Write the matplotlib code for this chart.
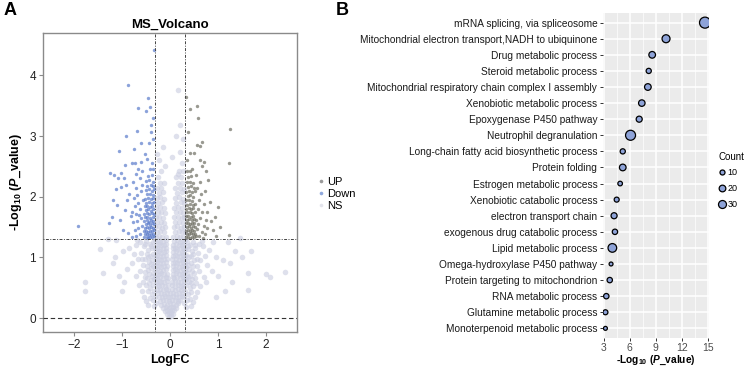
import numpy as np
import matplotlib.pyplot as plt
from matplotlib.lines import Line2D
from matplotlib.ticker import MultipleLocator

plt.rcParams['font.family'] = ['Liberation Sans', 'DejaVu Sans']
plt.rcParams['mathtext.fontset'] = 'custom'
plt.rcParams['mathtext.rm'] = 'Liberation Sans:bold'
plt.rcParams['mathtext.it'] = 'Liberation Sans:italic:bold'
plt.rcParams['mathtext.bf'] = 'Liberation Sans:bold'

# ---------------- panel A: volcano points (logFC, -log10 p)
up_pts = [
    (0.33, 3.64), (0.56, 3.49), (0.42, 3.44), (0.59, 3.30), (1.25, 3.12), (1.24, 2.55),
    (0.37, 3.07), (0.56, 2.86), (0.63, 2.84), (0.66, 2.90), (0.42, 2.72), (0.51, 2.72),
    (0.63, 2.60), (0.70, 2.57), (0.66, 2.50), (0.36, 2.60), (0.45, 2.45), (0.75, 2.42),
    (0.55, 2.35), (0.80, 2.28), (0.62, 2.25), (0.83, 1.92), (1.01, 1.83), (0.94, 1.67),
    (1.04, 1.50), (1.24, 1.37), (0.90, 1.45), (0.85, 1.60), (0.78, 1.75), (0.95, 1.35),
    (0.57, 2.15), (0.65, 2.05), (0.72, 2.10), (0.60, 1.95), (0.70, 1.88), (0.58, 1.80),
    (0.66, 1.75), (0.75, 1.62), (0.62, 1.65), (0.70, 1.52), (0.58, 1.55), (0.66, 1.42),
    (0.74, 1.38), (0.60, 1.35), (0.78, 1.48), (0.68, 1.32),
    (0.34, 1.33), (0.38, 1.34), (0.42, 1.32), (0.46, 1.34), (0.50, 1.33), (0.55, 1.35),
    (0.36, 1.39), (0.40, 1.38), (0.44, 1.40), (0.49, 1.38), (0.53, 1.39),
    (0.33, 1.44), (0.37, 1.45), (0.41, 1.43), (0.45, 1.45), (0.50, 1.44), (0.56, 1.46),
    (0.35, 1.50), (0.39, 1.51), (0.43, 1.49), (0.48, 1.51), (0.53, 1.50),
    (0.34, 1.56), (0.38, 1.57), (0.42, 1.55), (0.46, 1.57), (0.51, 1.56),
    (0.36, 1.62), (0.40, 1.63), (0.45, 1.61), (0.50, 1.63), (0.55, 1.62),
    (0.34, 1.68), (0.38, 1.69), (0.43, 1.67), (0.48, 1.69),
    (0.36, 1.74), (0.41, 1.75), (0.46, 1.73), (0.52, 1.75),
    (0.34, 1.80), (0.39, 1.81), (0.44, 1.79), (0.49, 1.81),
    (0.36, 1.87), (0.41, 1.88), (0.47, 1.86), (0.53, 1.88),
    (0.34, 1.94), (0.39, 1.95), (0.45, 1.93),
    (0.37, 2.01), (0.42, 2.02), (0.49, 2.00),
    (0.34, 2.08), (0.40, 2.09), (0.46, 2.07), (0.52, 2.09),
    (0.37, 2.16), (0.43, 2.17), (0.50, 2.15),
    (0.35, 2.24), (0.41, 2.25), (0.47, 2.23),
    (0.38, 2.33), (0.44, 2.34), (0.35, 2.42), (0.41, 2.43),
]

down_pts = [
    (-0.33, 4.42), (-0.87, 3.84), (-0.67, 3.46), (-0.45, 3.62), (-0.42, 3.48), (-0.36, 3.30),
    (-0.50, 3.42), (-0.39, 3.18), (-0.92, 3.00), (-0.69, 3.08), (-0.40, 3.07), (-0.61, 2.89),
    (-0.44, 2.89), (-0.36, 2.95), (-1.06, 2.76), (-0.76, 2.78), (-0.52, 2.71), (-0.79, 2.55),
    (-0.73, 2.55), (-0.60, 2.57), (-0.47, 2.62), (-0.94, 2.53), (-1.25, 2.39), (-1.17, 2.35),
    (-1.03, 2.39), (-1.09, 2.30), (-0.92, 2.19), (-1.03, 2.16), (-1.13, 2.12), (-1.19, 1.94),
    (-1.11, 1.86), (-1.28, 1.56), (-1.22, 1.67), (-0.94, 1.78), (-1.04, 1.62), (-1.92, 1.52),
    (-0.98, 1.45), (-0.90, 1.95), (-0.85, 2.05), (-0.82, 1.68), (-0.88, 1.40), (-0.95, 2.30),
    (-0.78, 2.25), (-0.72, 2.38), (-0.66, 2.46), (-0.70, 2.15), (-0.62, 2.30), (-0.58, 2.42),
    (-0.76, 1.98), (-0.68, 2.02), (-0.60, 2.10), (-0.74, 1.85), (-0.66, 1.90), (-0.79, 1.75),
    (-0.70, 1.72), (-0.62, 1.80), (-0.77, 1.58), (-0.69, 1.60), (-0.60, 1.65), (-0.74, 1.45),
    (-0.66, 1.48), (-0.58, 1.52), (-0.70, 1.36), (-0.62, 1.38), (-0.80, 1.33), (-0.56, 1.95),
    (-0.58, 2.20), (-0.64, 1.70),
    (-0.54, 1.33), (-0.49, 1.34), (-0.45, 1.32), (-0.41, 1.34), (-0.37, 1.33), (-0.34, 1.35),
    (-0.52, 1.38), (-0.47, 1.39), (-0.43, 1.37), (-0.39, 1.39), (-0.35, 1.38),
    (-0.55, 1.43), (-0.50, 1.44), (-0.46, 1.42), (-0.42, 1.44), (-0.38, 1.43), (-0.34, 1.45),
    (-0.53, 1.49), (-0.48, 1.50), (-0.44, 1.48), (-0.40, 1.50), (-0.36, 1.49),
    (-0.51, 1.55), (-0.46, 1.56), (-0.42, 1.54), (-0.38, 1.56), (-0.34, 1.55),
    (-0.54, 1.60), (-0.49, 1.61), (-0.44, 1.59), (-0.39, 1.61), (-0.35, 1.60),
    (-0.52, 1.66), (-0.47, 1.67), (-0.41, 1.65), (-0.36, 1.67),
    (-0.55, 1.72), (-0.49, 1.73), (-0.44, 1.71), (-0.38, 1.73), (-0.34, 1.72),
    (-0.51, 1.78), (-0.46, 1.79), (-0.40, 1.77), (-0.35, 1.79),
    (-0.53, 1.84), (-0.47, 1.85), (-0.42, 1.83), (-0.37, 1.85),
    (-0.50, 1.90), (-0.44, 1.91), (-0.38, 1.89), (-0.34, 1.91),
    (-0.52, 1.97), (-0.46, 1.98), (-0.40, 1.96), (-0.35, 1.98),
    (-0.48, 2.04), (-0.42, 2.05), (-0.36, 2.03),
    (-0.51, 2.11), (-0.44, 2.12), (-0.38, 2.10), (-0.34, 2.12),
    (-0.47, 2.18), (-0.40, 2.19), (-0.35, 2.17),
    (-0.50, 2.26), (-0.43, 2.27), (-0.36, 2.25),
    (-0.45, 2.34), (-0.38, 2.35), (-0.42, 2.45), (-0.35, 2.46), (-0.38, 2.55),
]

ns_pts = [
    # bottom of the V
    (-0.03, 0.02), (0.02, 0.03), (0.06, 0.06), (-0.07, 0.07), (-0.02, 0.08), (0.03, 0.09),
    (-0.11, 0.12), (-0.06, 0.13), (-0.01, 0.12), (0.04, 0.14), (0.09, 0.13), (0.12, 0.17),
    (-0.14, 0.17), (-0.08, 0.18), (-0.03, 0.17), (0.02, 0.19), (0.07, 0.18),
    (-0.18, 0.22), (-0.12, 0.23), (-0.06, 0.22), (0.00, 0.24), (0.06, 0.23), (0.12, 0.22),
    (0.17, 0.25), (-0.20, 0.28), (-0.14, 0.29), (-0.08, 0.30), (-0.02, 0.28), (0.04, 0.29),
    (0.10, 0.30), (0.16, 0.28), (0.21, 0.30),
    (-0.23, 0.34), (-0.17, 0.35), (-0.11, 0.36), (-0.05, 0.34), (0.01, 0.35), (0.07, 0.36),
    (0.13, 0.34), (0.19, 0.35), (0.24, 0.37), (-0.25, 0.41), (-0.19, 0.42), (-0.13, 0.40),
    (-0.07, 0.42), (0.00, 0.41), (0.06, 0.42), (0.12, 0.40), (0.18, 0.42), (0.24, 0.41),
    (-0.27, 0.47), (-0.21, 0.48), (-0.15, 0.46), (-0.09, 0.48), (-0.04, 0.47), (0.04, 0.48),
    (0.10, 0.46), (0.16, 0.48), (0.22, 0.47), (0.27, 0.49),
    (-0.28, 0.54), (-0.22, 0.53), (-0.16, 0.55), (-0.10, 0.53), (-0.05, 0.54), (0.05, 0.55),
    (0.11, 0.53), (0.17, 0.55), (0.23, 0.53), (0.28, 0.54),
    # the two arms
    (-0.30, 0.60), (-0.24, 0.61), (-0.18, 0.59), (-0.12, 0.60), (-0.06, 0.61),
    (0.05, 0.60), (0.11, 0.61), (0.17, 0.59), (0.23, 0.60), (0.29, 0.61),
    (-0.31, 0.67), (-0.27, 0.66), (-0.21, 0.68), (-0.15, 0.66), (-0.09, 0.67), (-0.05, 0.66),
    (0.06, 0.67), (0.09, 0.66), (0.15, 0.68), (0.21, 0.66), (0.27, 0.67), (0.31, 0.66),
    (-0.30, 0.73), (-0.24, 0.72), (-0.18, 0.74), (-0.12, 0.72), (-0.07, 0.73),
    (0.06, 0.72), (0.12, 0.74), (0.18, 0.72), (0.24, 0.73), (0.29, 0.74),
    (-0.32, 0.79), (-0.27, 0.80), (-0.21, 0.78), (-0.15, 0.79), (-0.09, 0.80),
    (0.07, 0.79), (0.10, 0.80), (0.15, 0.78), (0.21, 0.79), (0.27, 0.80), (0.31, 0.78),
    (-0.30, 0.85), (-0.24, 0.86), (-0.18, 0.84), (-0.12, 0.85), (-0.07, 0.86),
    (0.06, 0.85), (0.12, 0.86), (0.18, 0.84), (0.24, 0.85), (0.29, 0.86),
    (-0.32, 0.91), (-0.27, 0.92), (-0.21, 0.90), (-0.15, 0.91), (-0.09, 0.92),
    (0.07, 0.91), (0.10, 0.92), (0.15, 0.90), (0.21, 0.91), (0.27, 0.92), (0.31, 0.90),
    (-0.30, 0.97), (-0.24, 0.98), (-0.18, 0.96), (-0.12, 0.97), (-0.07, 0.98),
    (0.05, 0.97), (0.12, 0.98), (0.18, 0.96), (0.24, 0.97), (0.29, 0.98),
    (-0.31, 1.03), (-0.27, 1.04), (-0.21, 1.02), (-0.15, 1.03), (-0.09, 1.04),
    (0.07, 1.03), (0.10, 1.04), (0.15, 1.02), (0.21, 1.03), (0.27, 1.04), (0.31, 1.02),
    (-0.30, 1.09), (-0.24, 1.10), (-0.18, 1.08), (-0.12, 1.09), (-0.08, 1.10),
    (0.06, 1.09), (0.12, 1.10), (0.18, 1.08), (0.24, 1.09), (0.29, 1.10),
    (-0.32, 1.15), (-0.27, 1.16), (-0.21, 1.14), (-0.15, 1.15), (-0.09, 1.16),
    (0.07, 1.15), (0.10, 1.16), (0.15, 1.14), (0.21, 1.15), (0.27, 1.16), (0.31, 1.14),
    (-0.30, 1.21), (-0.24, 1.22), (-0.18, 1.20), (-0.12, 1.21), (-0.08, 1.22),
    (0.07, 1.21), (0.12, 1.22), (0.18, 1.20), (0.24, 1.21), (0.29, 1.22),
    (-0.31, 1.27), (-0.26, 1.28), (-0.20, 1.26), (-0.14, 1.27), (-0.09, 1.28),
    (0.08, 1.27), (0.14, 1.28), (0.20, 1.26), (0.26, 1.27), (0.31, 1.28),
    (-0.30, 1.34), (-0.23, 1.35), (-0.16, 1.33), (-0.09, 1.34),
    (0.07, 1.34), (0.14, 1.35), (0.21, 1.33), (0.28, 1.34),
    (-0.28, 1.42), (-0.20, 1.43), (-0.12, 1.41), (0.10, 1.42), (0.18, 1.43), (0.26, 1.41), (0.31, 1.42),
    (-0.31, 1.50), (-0.24, 1.51), (-0.16, 1.49), (-0.10, 1.50), (0.08, 1.50), (0.15, 1.51),
    (0.22, 1.49), (0.29, 1.50),
    (-0.27, 1.58), (-0.19, 1.59), (-0.12, 1.57), (0.11, 1.58), (0.19, 1.59), (0.27, 1.57),
    (-0.30, 1.66), (-0.22, 1.67), (-0.14, 1.65), (0.08, 1.66), (0.16, 1.67), (0.24, 1.65), (0.30, 1.66),
    (-0.26, 1.74), (-0.18, 1.75), (-0.11, 1.73), (0.12, 1.74), (0.20, 1.75), (0.28, 1.73),
    (-0.29, 1.82), (-0.21, 1.83), (-0.13, 1.81), (0.09, 1.82), (0.17, 1.83), (0.25, 1.81),
    (-0.25, 1.90), (-0.16, 1.91), (0.13, 1.90), (0.22, 1.91), (0.30, 1.89),
    (-0.28, 1.98), (-0.20, 1.99), (-0.12, 1.97), (0.10, 1.98), (0.18, 1.99), (0.27, 1.97),
    (-0.23, 2.06), (-0.15, 2.07), (0.14, 2.06), (0.24, 2.07),
    (-0.27, 2.14), (-0.18, 2.15), (0.11, 2.14), (0.20, 2.15), (0.29, 2.13),
    (-0.21, 2.22), (-0.13, 2.23), (0.16, 2.22), (0.26, 2.23),
    (-0.25, 2.32), (0.12, 2.32), (0.22, 2.33), (-0.18, 2.42), (0.19, 2.42), (0.28, 2.43),
    (-0.15, 2.82), (0.21, 2.74), (0.17, 2.38), (0.21, 3.18), (0.16, 3.76), (-0.22, 2.60),
    (0.26, 2.55), (-0.10, 2.50), (0.05, 2.65), (0.28, 2.95), (-0.28, 2.70), (0.13, 3.00),
    # shoulders below the p cut-off
    (-0.36, 1.25), (-0.42, 1.22), (-0.50, 1.27), (-0.38, 1.15), (-0.46, 1.12), (-0.55, 1.18),
    (-0.35, 1.05), (-0.41, 1.02), (-0.49, 1.06), (-0.60, 1.08), (-0.37, 0.95), (-0.44, 0.92),
    (-0.52, 0.97), (-0.66, 0.98), (-0.35, 0.85), (-0.40, 0.82), (-0.48, 0.86), (-0.57, 0.88),
    (-0.36, 0.75), (-0.43, 0.72), (-0.52, 0.76), (-0.62, 0.78), (-0.34, 0.65), (-0.40, 0.62),
    (-0.47, 0.66), (-0.56, 0.60), (-0.35, 0.55), (-0.42, 0.50), (-0.50, 0.54), (-0.33, 0.45),
    (-0.38, 0.40), (-0.45, 0.44), (-0.31, 0.35), (-0.36, 0.30), (-0.42, 0.33), (-0.30, 0.25),
    (-0.34, 0.20), (-0.70, 1.20), (-0.75, 1.05), (-0.80, 0.90), (-0.72, 0.70), (-0.65, 0.55),
    (-0.58, 0.45), (-0.85, 1.15), (-0.90, 0.80), (-0.68, 1.28), (-0.62, 1.25), (-0.55, 0.35),
    (-0.50, 0.28), (-0.45, 0.22), (-0.39, 1.19), (-0.45, 1.01), (-0.39, 0.89), (-0.46, 0.79),
    (-0.38, 0.69), (-0.44, 0.58), (-0.53, 1.22), (-0.58, 0.98), (-0.53, 0.67),
    (0.35, 1.25), (0.41, 1.20), (0.48, 1.26), (0.37, 1.14), (0.45, 1.10), (0.53, 1.16),
    (0.34, 1.04), (0.40, 1.00), (0.48, 1.05), (0.58, 1.07), (0.36, 0.94), (0.43, 0.90),
    (0.51, 0.96), (0.63, 0.95), (0.34, 0.84), (0.39, 0.80), (0.47, 0.85), (0.56, 0.86),
    (0.35, 0.74), (0.42, 0.70), (0.50, 0.75), (0.60, 0.77), (0.33, 0.64), (0.39, 0.60),
    (0.46, 0.65), (0.55, 0.58), (0.34, 0.54), (0.41, 0.50), (0.49, 0.53), (0.32, 0.44),
    (0.37, 0.40), (0.44, 0.43), (0.30, 0.34), (0.35, 0.30), (0.41, 0.32), (0.29, 0.24),
    (0.33, 0.19), (0.68, 1.18), (0.73, 1.02), (0.78, 0.88), (0.70, 0.68), (0.63, 0.52),
    (0.56, 0.43), (0.82, 1.12), (0.88, 0.78), (0.66, 1.27), (0.60, 1.22), (0.53, 0.34),
    (0.48, 0.27), (0.43, 0.20), (0.75, 0.60), (0.90, 1.25), (0.95, 1.00), (0.38, 1.19),
    (0.44, 1.02), (0.38, 0.88), (0.45, 0.78), (0.37, 0.68), (0.43, 0.57), (0.52, 1.21),
    (0.57, 0.97), (0.52, 0.66),
    # far outliers
    (-1.77, 0.60), (-1.77, 0.45), (-1.46, 1.14), (-1.06, 0.69), (-1.15, 1.00), (-1.12, 1.28),
    (-1.30, 1.30), (-1.00, 0.45), (-1.20, 0.90), (-0.95, 0.60), (-1.40, 0.75), (-0.98, 1.10),
    (1.63, 0.74), (2.40, 0.76), (2.00, 0.72), (2.08, 0.68), (1.63, 0.46), (1.25, 0.90),
    (1.20, 1.25), (1.35, 1.10), (1.10, 0.95), (1.00, 0.70), (1.50, 1.00), (1.30, 0.60),
    (1.15, 0.45), (0.95, 0.35), (1.70, 1.10), (1.45, 1.32),
]

# ---------------- panel B: GO terms, -log10 p and gene count
terms = [
    "mRNA splicing, via spliceosome",
    "Mitochondrial electron transport,NADH to ubiquinone",
    "Drug metabolic process",
    "Steroid metabolic process",
    "Mitochondrial respiratory chain complex I assembly",
    "Xenobiotic metabolic process",
    "Epoxygenase P450 pathway",
    "Neutrophil degranulation",
    "Long-chain fatty acid biosynthetic process",
    "Protein folding",
    "Estrogen metabolic process",
    "Xenobiotic catabolic process",
    "electron transport chain",
    "exogenous drug catabolic process",
    "Lipid metabolic process",
    "Omega-hydroxylase P450 pathway",
    "Protein targeting to mitochondrion",
    "RNA metabolic process",
    "Glutamine metabolic process",
    "Monoterpenoid metabolic process",
]
neglog_p = [14.7, 10.2, 8.6, 8.2, 8.1, 7.4, 7.1, 6.1, 5.2, 5.2,
            4.9, 4.5, 4.2, 4.3, 4.0, 3.85, 3.7, 3.3, 3.2, 3.2]
counts = [60, 30, 20, 11, 20, 19, 16, 49, 11, 20,
          8, 10, 16, 12, 36, 5, 12, 12, 10, 5]
legend_counts = [10, 20, 30]


def bubble(c):
    return np.asarray(c, dtype=float) + 3


fig = plt.figure(figsize=(7.47, 3.67), dpi=100)

# ---- volcano
ax = fig.add_axes([0.0576, 0.0954, 0.340, 0.815])
nx_, ny_ = zip(*ns_pts)
ux, uy = zip(*up_pts)
dx, dy = zip(*down_pts)
ax.scatter(nx_, ny_, s=16, c="#CDD0E2", alpha=0.65, lw=0, zorder=1)
ax.scatter(dx, dy, s=6, c="#5A7BCB", alpha=0.7, lw=0, zorder=2)
ax.scatter(ux, uy, s=6, c="#6E6E62", alpha=0.7, lw=0, zorder=2)

dotdash = (0, (1, 1.5, 3, 1.5))
for xv in (-0.32, 0.32):
    ax.axvline(xv, color="#444444", lw=0.7, ls=dotdash, zorder=3)
ax.axhline(1.3, color="#444444", lw=0.7, ls=dotdash, zorder=3)
ax.axhline(0, color="#333333", lw=0.8, ls=(0, (4, 2.5)), zorder=3)

ax.set_xlim(-2.65, 2.65)
ax.set_ylim(-0.23, 4.7)
ax.set_xticks([-2, -1, 0, 1, 2])
ax.set_yticks([0, 1, 2, 3, 4])
for sp in ax.spines.values():
    sp.set_color("#8A8A8A")
    sp.set_linewidth(1.0)
ax.tick_params(length=3, width=0.8, color="#8A8A8A", labelsize=8.5,
               labelcolor="#222222", pad=2)
ax.set_title("MS_Volcano", fontsize=9.5, fontweight="bold", pad=4)
ax.set_xlabel("LogFC", fontsize=9, fontweight="bold", labelpad=2)
ax.set_ylabel(r"-Log$_{10}$ ($\mathit{P}$_value)", fontsize=9, fontweight="bold", labelpad=4)

vol_handles = [
    Line2D([], [], ls="", marker="o", ms=2.6, mfc="#9A9A9A", mec="none"),
    Line2D([], [], ls="", marker="o", ms=2.6, mfc="#8FA8DD", mec="none"),
    Line2D([], [], ls="", marker="o", ms=2.6, mfc="#E3E4EC", mec="none"),
]
fig.legend(vol_handles, ["UP", "Down", "NS"], loc="upper left",
           bbox_to_anchor=(312 / 747, 1 - 171 / 367), frameon=False, fontsize=8,
           handlelength=0.6, handletextpad=0.3, labelspacing=0.2, borderpad=0)

# ---- GO dot plot
bx = fig.add_axes([0.807, 0.079, 0.142, 0.8856])
ypos = np.arange(len(terms))[::-1] + 1
bx.set_facecolor("#EBEBEB")
bx.scatter(neglog_p, ypos, s=bubble(counts), c="#8EA3D8", edgecolors="black",
           linewidths=0.9, zorder=3)
bx.set_xlim(2.9, 15.15)
bx.set_ylim(0.4, len(terms) + 0.6)
bx.xaxis.set_major_locator(MultipleLocator(3))
bx.xaxis.set_minor_locator(MultipleLocator(1.5))
bx.set_yticks(ypos)
bx.set_yticklabels(terms)
bx.grid(which="major", color="white", lw=1.1)
bx.grid(which="minor", axis="x", color="white", lw=0.5)
bx.set_axisbelow(True)
for sp in bx.spines.values():
    sp.set_visible(False)
bx.tick_params(which="major", length=2.5, width=0.7, color="#333333",
               labelsize=7.3, labelcolor="#1A1A1A", pad=1.5)
bx.tick_params(which="minor", length=0)
bx.tick_params(axis="x", labelsize=7.5, labelcolor="#4D4D4D", pad=1)
bx.set_xlabel(r"-Log$_{10}$ ($\mathit{P}$_value)", fontsize=7.3, fontweight="bold", labelpad=0.5)

cnt_handles = [Line2D([], [], ls="", marker="o", ms=np.sqrt(bubble(c)), mfc="#8EA3D8",
                      mec="black", mew=0.9) for c in legend_counts]
fig.legend(cnt_handles, [str(c) for c in legend_counts], title="Count", loc="upper left",
           bbox_to_anchor=(714 / 747, 1 - 147 / 367), frameon=False, fontsize=6.5,
           title_fontsize=7, handlelength=0.7, handletextpad=0.3, labelspacing=0.75,
           borderpad=0, alignment="left")

fig.text(4 / 747, 1 - 2 / 367, "A", fontsize=13, fontweight="bold", va="top", ha="left")
fig.text(336 / 747, 1 - 2 / 367, "B", fontsize=13, fontweight="bold", va="top", ha="left")

fig.savefig("out.png", dpi=100)
